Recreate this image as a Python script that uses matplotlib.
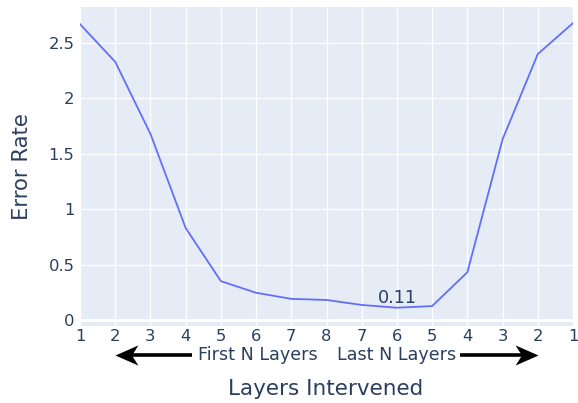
import matplotlib as mpl
mpl.use("Agg")
import matplotlib.pyplot as plt
import numpy as np
from matplotlib.path import Path

mpl.rcParams.update({"font.family": ["DejaVu Sans"]})

# ── Data ──────────────────────────────────────────────────────────────────────
TICK_LABELS = ["1", "2", "3", "4", "5", "6", "7", "8", "7", "6", "5", "4", "3", "2", "1"]
ERROR_RATE = [2.67, 2.33, 1.68, 0.83, 0.35, 0.245, 0.19, 0.18, 0.135, 0.11,
              0.125, 0.43, 1.63, 2.40, 2.68]
Y_TICKS = [0, 0.5, 1, 1.5, 2, 2.5]
Y_TICK_LABELS = ["0", "0.5", "1", "1.5", "2", "2.5"]

# ── Plotly-like styling ───────────────────────────────────────────────────────
BG = "#E5ECF6"
LINE = "#636EFA"
TXT = "#2A3F5F"

fig = plt.figure(figsize=(5.78, 4.03), dpi=100)
ax = fig.add_axes([80 / 578, 1 - 326 / 403, (573 - 80) / 578, (326 - 7) / 403])
ax.set_facecolor(BG)

x = np.arange(len(ERROR_RATE))
ax.plot(x, ERROR_RATE, color=LINE, lw=1.3, zorder=3)

ax.set_xlim(0, len(ERROR_RATE) - 1)
ax.set_ylim(-0.055, 2.825)
ax.set_xticks(x)
ax.set_xticklabels(TICK_LABELS)
ax.set_yticks(Y_TICKS)
ax.set_yticklabels(Y_TICK_LABELS)
ax.tick_params(length=0, labelsize=11.8, colors=TXT)
ax.tick_params(axis="x", pad=2)
ax.tick_params(axis="y", pad=4)
ax.grid(True, color="white", lw=1, zorder=1)
ax.axhline(0, color="white", lw=2.2, zorder=2)
for s in ax.spines.values():
    s.set_visible(False)

ax.set_ylabel("Error Rate", fontsize=15.2, color=TXT, labelpad=12)

# minimum annotation
imin = int(np.argmin(ERROR_RATE))
ax.annotate(f"{ERROR_RATE[imin]:.2f}", xy=(x[imin], ERROR_RATE[imin]),
            xytext=(0, 0.5), textcoords="offset points",
            ha="center", va="bottom", fontsize=12.7, color=TXT)

# direction arrows and labels below the axis
tr = ax.get_xaxis_transform()
ay = -29 / 319  # px below the plot area

head = Path([(0, 0), (-1, 0.44), (-0.72, 0), (-1, -0.44), (0, 0)],
            [Path.MOVETO, Path.LINETO, Path.LINETO, Path.LINETO, Path.CLOSEPOLY])
head_left = Path(head.vertices * [-1, 1], head.codes)

ax.plot([3.18, 1.3], [ay, ay], transform=tr, color="black", lw=2.6,
        solid_capstyle="butt", clip_on=False)
ax.plot([1.0], [ay], transform=tr, marker=head_left, ms=33, mew=0,
        color="black", clip_on=False)
ax.plot([10.8, 12.8], [ay, ay], transform=tr, color="black", lw=2.6,
        solid_capstyle="butt", clip_on=False)
ax.plot([13.0], [ay], transform=tr, marker=head, ms=33, mew=0,
        color="black", clip_on=False)

ax.text(5.05, ay, "First N Layers", transform=tr, ha="center", va="center",
        fontsize=12.6, color=TXT, clip_on=False)
ax.text(9.0, ay, "Last N Layers", transform=tr, ha="center", va="center",
        fontsize=12.6, color=TXT, clip_on=False)

fig.text(326 / 578, 1 - 389 / 403, "Layers Intervened", ha="center", va="center",
         fontsize=15.5, color=TXT)

fig.savefig("out.png", dpi=100)
